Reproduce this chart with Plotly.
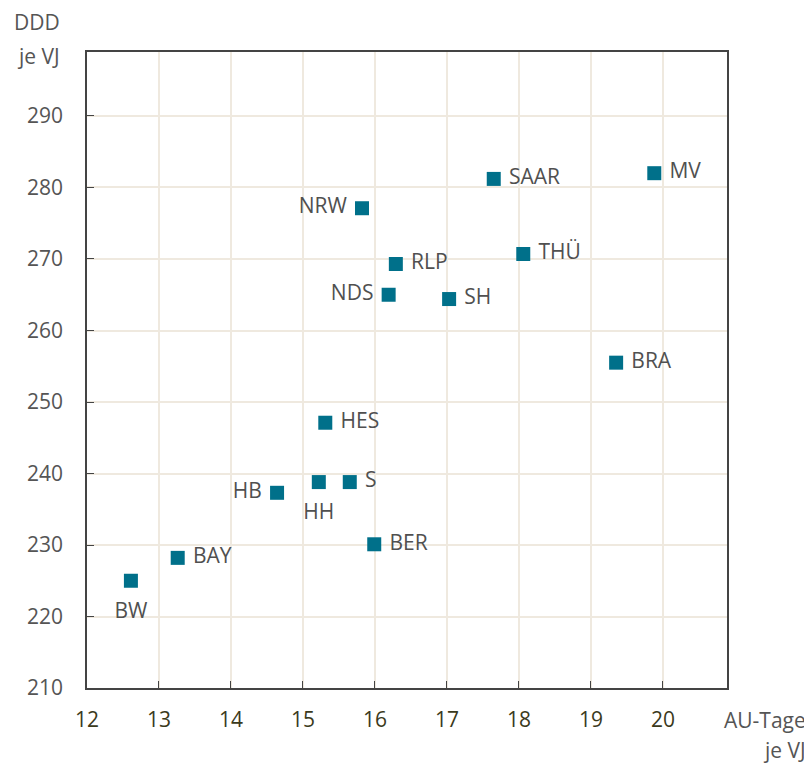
import plotly.graph_objects as go

laender = ["BW", "BAY", "HB", "HH", "S", "HES", "BER", "NDS", "RLP", "NRW", "SH", "SAAR", "THÜ", "BRA", "MV"]
au_tage = [12.61, 13.26, 14.64, 15.22, 15.65, 15.31, 15.99, 16.19, 16.29, 15.82, 17.03, 17.65, 18.06, 19.35, 19.88]
ddd = [225.0, 228.2, 237.3, 238.8, 238.8, 247.1, 230.1, 265.0, 269.3, 277.1, 264.4, 281.2, 270.7, 255.5, 282.0]
label_pos = ["bottom center", "middle right", "middle left", "bottom center", "middle right",
             "middle right", "middle right", "middle left", "middle right", "middle left",
             "middle right", "middle right", "middle right", "middle right", "middle right"]
x_ticks = [12, 13, 14, 15, 16, 17, 18, 19, 20]
y_ticks = [210, 220, 230, 240, 250, 260, 270, 280, 290]

FONT = "Open Sans"
FS = 21
fig = go.Figure()
side = [i for i, p in enumerate(label_pos) if p != "bottom center"]
below = [i for i, p in enumerate(label_pos) if p == "bottom center"]
# labels below the marker (larger invisible marker gives a larger offset)
fig.add_trace(go.Scatter(
    x=[au_tage[i] for i in below], y=[ddd[i] for i in below], mode="markers+text",
    text=[laender[i] for i in below], textposition="bottom center",
    textfont=dict(family=FONT, size=FS, color="#505050"),
    marker=dict(symbol="square", size=32, opacity=0),
    showlegend=False, cliponaxis=False, hoverinfo="skip",
))
fig.add_trace(go.Scatter(
    x=[au_tage[i] for i in side], y=[ddd[i] for i in side], mode="markers+text",
    text=[" " + laender[i] + " " for i in side],
    textposition=[label_pos[i] for i in side],
    textfont=dict(family=FONT, size=FS, color="#505050"),
    marker=dict(symbol="square", size=14, opacity=0),
    showlegend=False, cliponaxis=False, hoverinfo="skip",
))
fig.add_trace(go.Scatter(
    x=au_tage, y=ddd, mode="markers", text=laender,
    marker=dict(symbol="square", size=14, color="#00708a"),
    showlegend=False, cliponaxis=False,
))
axis_common = dict(showline=True, linecolor="#444444", linewidth=1.5, mirror=True,
                   showgrid=True, gridcolor="#efe9df", gridwidth=1.5, zeroline=False,
                   ticks="inside", ticklen=7, tickcolor="#444444")
fig.update_xaxes(range=[12, 20.89], tickvals=x_ticks,
                 tickfont=dict(family=FONT, size=FS, color="#3b3a1c"),
                 ticklabelstandoff=12, **axis_common)
fig.update_yaxes(range=[210, 298.95], tickvals=y_ticks,
                 tickfont=dict(family=FONT, size=FS, color="#555555"),
                 ticklabelstandoff=18, **axis_common)
ann_font = dict(family=FONT, size=FS, color="#555555")
for txt, x, y in [("DDD", -0.039, 1.0472), ("je VJ", -0.039, 0.9937),
                  ("AU-Tage", 1.1266, -0.0503), ("je VJ", 1.1266, -0.097)]:
    fig.add_annotation(text=txt, xref="paper", yref="paper", x=x, y=y,
                       xanchor="right", yanchor="middle", showarrow=False, font=ann_font)
fig.update_layout(width=804, height=756, margin=dict(l=79, r=85, t=44, b=76),
                  plot_bgcolor="white", paper_bgcolor="white")
fig.write_html("out.html")
